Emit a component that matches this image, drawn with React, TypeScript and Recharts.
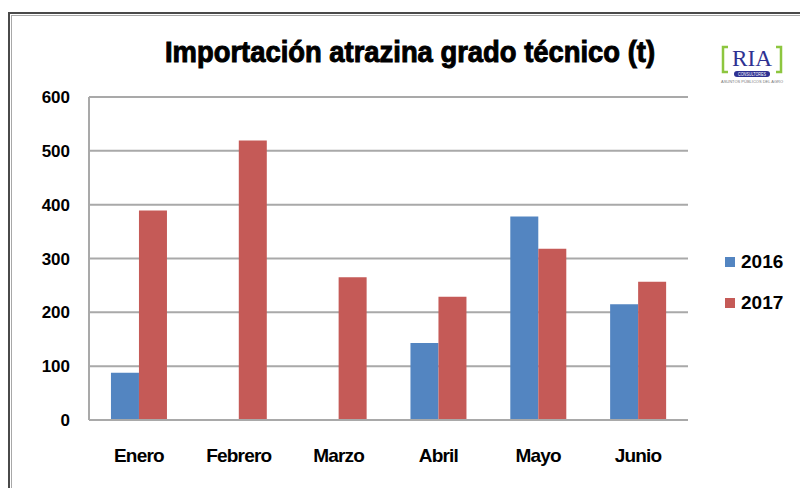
import React from "react";
import { BarChart, Bar, XAxis, YAxis, CartesianGrid } from "recharts";

const months = ["Enero", "Febrero", "Marzo", "Abril", "Mayo", "Junio"];
const values2016 = [88, null, null, 143, 378, 215];
const values2017 = [389, 519, 265, 229, 318, 257];
const yTicks = [0, 100, 200, 300, 400, 500, 600];
const seriesNames = ["2016", "2017"];

const BLUE = "#5385C1";
const RED = "#C55A57";
const FONT = "'Liberation Sans', Arial, sans-serif";

const data = months.map((m, i) => ({ month: m, y2016: values2016[i], y2017: values2017[i] }));

const YTick = ({ y, payload }: any) => (
    <text x={70} y={y} dy={6} textAnchor="end" fontFamily={FONT} fontWeight={700} fontSize={17} fill="#000">
        {payload.value}
    </text>
);

const XTick = ({ x, payload }: any) => (
    <text x={x} y={462} textAnchor="middle" fontFamily={FONT} fontWeight={700} fontSize={19} letterSpacing={-0.8} fill="#000">
        {payload.value}
    </text>
);

// legend drawn outside recharts so it doesn't shrink the plot
const LegendBox = () => (
    <div style={{ position: "absolute", left: 725, top: 251, fontFamily: FONT, fontWeight: 700, fontSize: 19 }}>
        {seriesNames.map((label, i) => (
            <div key={label} style={{ display: "flex", alignItems: "center", height: 22, marginBottom: i === 0 ? 19 : 0 }}>
                <span style={{ display: "inline-block", width: 10, height: 10, background: i === 0 ? BLUE : RED, marginRight: 6 }} />
                <span>{label}</span>
            </div>
        ))}
    </div>
);

const Logo = () => (
    <svg width={70} height={46} style={{ position: "absolute", left: 718, top: 42 }}>
        <path d="M10 5 H5 V30 H10" fill="none" stroke="#8DC63F" strokeWidth={2.5} />
        <path d="M58 5 H63 V30 H58" fill="none" stroke="#8DC63F" strokeWidth={2.5} />
        <text x={34} y={24} textAnchor="middle" fontFamily="'Liberation Serif', serif" fontSize={24} fill="#2E3192"
            textLength={40} lengthAdjust="spacingAndGlyphs">RIA</text>
        <rect x={16} y={29} width={36} height={6} rx={3} fill="#2E3192" />
        <text x={34} y={33.6} textAnchor="middle" fontFamily={FONT} fontSize={4.5} fill="#fff"
            textLength={28} lengthAdjust="spacingAndGlyphs">CONSULTORES</text>
        <text x={34} y={41} textAnchor="middle" fontFamily={FONT} fontSize={3.6} fill="#777"
            textLength={62} lengthAdjust="spacingAndGlyphs">ASUNTOS PÚBLICOS DEL AGRO</text>
    </svg>
);

export default function App() {
    return (
        <div style={{ position: "absolute", left: 0, top: 0, width: 800, height: 488, background: "#fff", overflow: "hidden" }}>
            <div style={{ position: "absolute", left: 8, top: 12, width: 820, height: 500, borderLeft: "2px solid #4a4a4a", borderTop: "2px solid #4a4a4a" }} />
            <div style={{ position: "absolute", left: 11, top: 15, width: 820, height: 500, borderLeft: "1px solid #a8a8a8", borderTop: "1px solid #a8a8a8" }} />
            <svg width={800} height={80} style={{ position: "absolute", left: 0, top: 0 }}>
                <text x={410} y={62} textAnchor="middle" fontFamily={FONT} fontWeight={700} fontSize={30} fill="#000"
                    textLength={490} lengthAdjust="spacingAndGlyphs" stroke="#000" strokeWidth={1}>
                    Importación atrazina grado técnico (t)
                </text>
            </svg>
            <Logo />
            <div style={{ position: "absolute", left: 0, top: 0 }}>
                <BarChart width={800} height={488} data={data} margin={{ top: 97, right: 112, bottom: 0, left: 0 }}
                    barCategoryGap="22%" barGap={0}>
                    <CartesianGrid vertical={false} stroke="#a9a9a9" strokeWidth={2} />
                    <XAxis dataKey="month" height={68} axisLine={{ stroke: "#a9a9a9", strokeWidth: 2 }} tickLine={false} tick={<XTick />} interval={0} />
                    <YAxis width={89} domain={[0, 600]} ticks={yTicks} axisLine={{ stroke: "#a9a9a9", strokeWidth: 2 }} tickLine={false} tick={<YTick />} />
                    <Bar dataKey="y2016" name="2016" fill={BLUE} isAnimationActive={false} />
                    <Bar dataKey="y2017" name="2017" fill={RED} isAnimationActive={false} />
                </BarChart>
            </div>
            <LegendBox />
        </div>
    );
}
